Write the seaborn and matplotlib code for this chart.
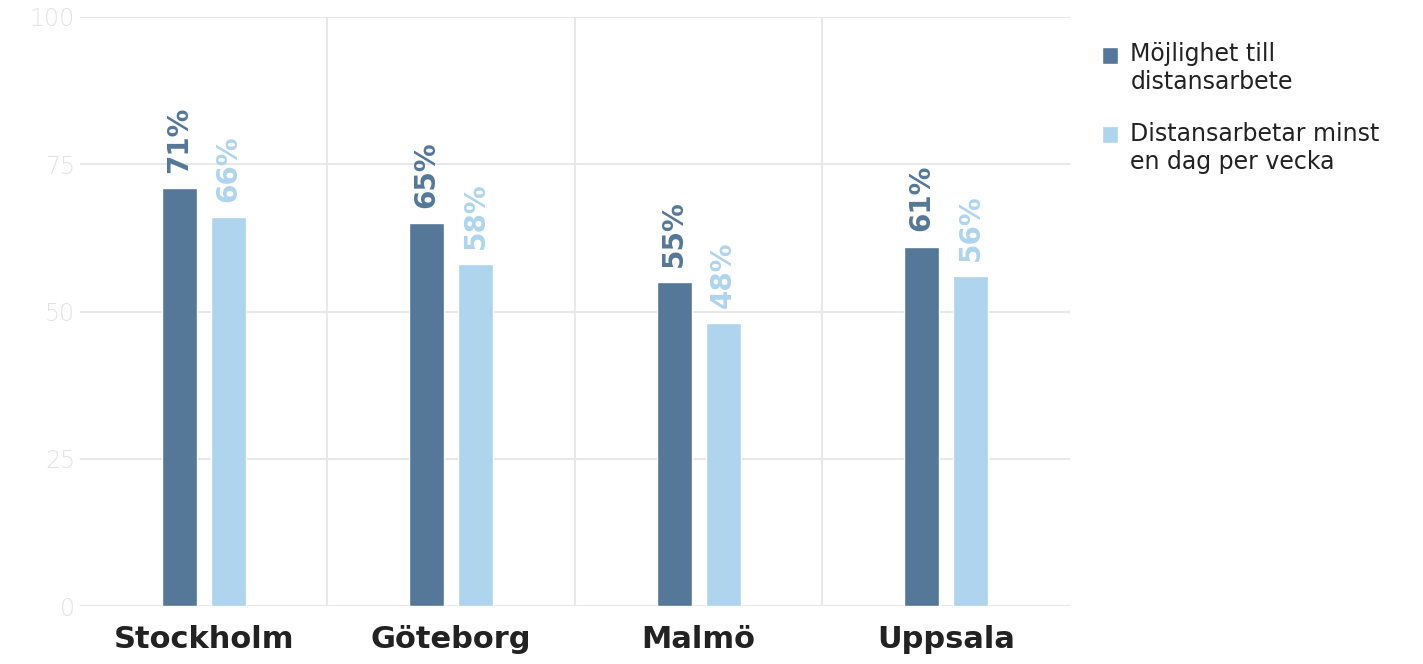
import matplotlib
matplotlib.use("Agg")
import matplotlib.pyplot as plt
import seaborn as sns
import pandas as pd

# Data
cities = ["Stockholm", "Göteborg", "Malmö", "Uppsala"]
series = ["Möjlighet till\ndistansarbete", "Distansarbetar minst\nen dag per vecka"]
mojlighet = [71, 65, 55, 61]
distans = [66, 58, 48, 56]

colors = ["#557798", "#aed4ee"]
grid_col = "#e8e8e8"

df = pd.DataFrame({
    "stad": cities * 2,
    "serie": [series[0]] * 4 + [series[1]] * 4,
    "andel": mojlighet + distans,
})

sns.set_style("white")
plt.rcParams["font.family"] = ["DejaVu Sans"]

fig = plt.figure(figsize=(14.23, 6.64), dpi=100)
ax = fig.add_axes([0.0562, 0.0873, 0.6957, 0.8871])

sns.barplot(data=df, x="stad", y="andel", hue="serie", palette=colors,
            width=0.396, gap=0.286, saturation=1, ax=ax, legend=True)

# value labels
for cont, col in zip(ax.containers, colors):
    ax.bar_label(cont, labels=[f"{int(v)}%" for v in cont.datavalues],
                 rotation=90, padding=11, color=col, fontsize=20,
                 fontweight="bold")

ax.set_ylim(0, 100)
ax.set_xlim(-0.5, 3.5)
ax.set_yticks([0, 25, 50, 75, 100])
ax.yaxis.grid(True, color=grid_col, linewidth=1.5)
ax.set_axisbelow(True)
for xv in [0.5, 1.5, 2.5]:
    ax.axvline(xv, color=grid_col, linewidth=1.5, zorder=0)

ax.tick_params(axis="y", length=0, labelsize=17, labelcolor="#e3e3e3", pad=3.5)
ax.tick_params(axis="x", length=0, labelsize=22, labelcolor="#222222", pad=14)
for lab in ax.get_xticklabels():
    lab.set_fontweight("bold")
for lab in ax.get_yticklabels():
    lab.set_fontweight("light")
ax.set_xlabel("")
ax.set_ylabel("")
for s in ax.spines.values():
    s.set_visible(False)

leg = ax.legend(loc="upper left", bbox_to_anchor=(1.0323, 0.957), frameon=False,
                fontsize=17, handlelength=0.7, handleheight=0.7,
                handletextpad=0.5, labelspacing=1.17, labelcolor="#222222",
                borderpad=0, borderaxespad=0)
# put the square next to the first line of each label
for h in leg.legend_handles:
    h.set_y(h.get_y() + 0.6 * 17)

fig.savefig("out.png", dpi=100)
